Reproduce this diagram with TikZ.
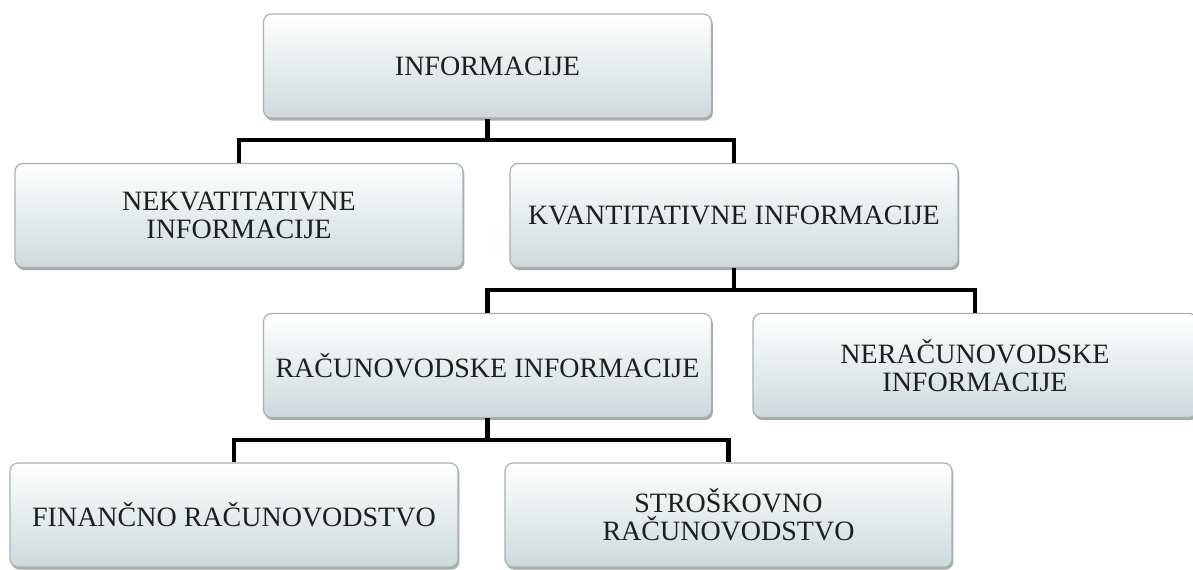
\documentclass[tikz,border=0pt]{standalone}
\usepackage{fontspec}
\setmainfont{Liberation Serif}
\usetikzlibrary{shadows}
\definecolor{boxbot}{RGB}{206,217,219}
\definecolor{boxedge}{RGB}{165,178,180}
\definecolor{txt}{RGB}{30,30,30}
\tikzset{
  box/.style={rectangle, rounded corners=4pt, minimum width=224pt, minimum height=52pt,
    inner sep=0pt, top color=white, bottom color=boxbot, draw=boxedge, line width=0.6pt,
    font=\fontsize{14}{14}\selectfont, text=txt, align=center,
    drop shadow={shadow xshift=0.7pt, shadow yshift=-1.3pt, fill=black!60, opacity=0.55}},
  conn/.style={line width=2.3pt, draw=black}
}
\begin{document}
\begin{tikzpicture}[x=0.5pt,y=-0.5pt]
\useasboundingbox (0,0) rectangle (1193,569);
\clip (0,0) rectangle (1193,569);
\node[box] (info) at (487.5,66) {INFORMACIJE};
\node[box] (nek) at (239,215.5) {NEKVATITATIVNE\\INFORMACIJE};
\node[box] (kva) at (734,215.5) {KVANTITATIVNE INFORMACIJE};
\node[box] (rac) at (487.5,365.5) {RAČUNOVODSKE INFORMACIJE};
\node[box, minimum width=222pt] (ner) at (975,365.5) {NERAČUNOVODSKE\\INFORMACIJE};
\node[box] (fin) at (234,515) {FINANČNO RAČUNOVODSTVO};
\node[box, minimum width=223.5pt] (str) at (728.5,515) {STROŠKOVNO\\RAČUNOVODSTVO};
\coordinate (j1) at (487.5,140);
\coordinate (j2) at (734,290);
\coordinate (j3) at (487.5,440);
\draw[conn] (info.south) -- (j1);
\draw[conn] (nek.north) |- (j1) -| (kva.north);
\draw[conn] (kva.south) -- (j2);
\draw[conn] (rac.north) |- (j2) -| (ner.north);
\draw[conn] (rac.south) -- (j3);
\draw[conn] (fin.north) |- (j3) -| (str.north);
\end{tikzpicture}
\end{document}
